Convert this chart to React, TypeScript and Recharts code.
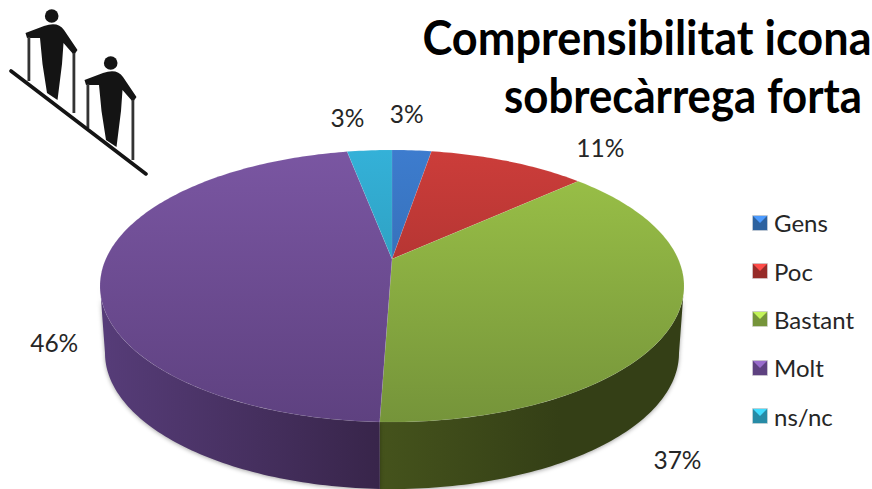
import React from 'react';
import { PieChart, Pie, Legend } from 'recharts';

const categories = ['Gens', 'Poc', 'Bastant', 'Molt', 'ns/nc'];
const shares = [2.64, 10.56, 37.35, 46.45, 3.0];
const titleLines = ['Comprensibilitat icona', 'sobrecàrrega forta'];

const rows = categories.map((name, i) => ({ name, value: shares[i] }));

// Layout and style
const W = 872;
const H = 489;
const FONT = 'Lato, "Open Sans", sans-serif';
const TOP = { cx: 392, cy: 286, rx: 292, ry: 136 };
const BOTTOM = { cx: 392, cy: 353, rx: 287, ry: 136 };
const K = -27 / 136; // perspective: hub sits above the ellipse middle
const TOP_COLORS = [
  ['#3d7cce', '#2d629f'],
  ['#cc3d3a', '#962b29'],
  ['#9cc348', '#75943a'],
  ['#7a56a2', '#5e4180'],
  ['#34b1d8', '#278ba6'],
];
const WALL_COLORS = [
  ['#2c5a90', '#1c3a60'],
  ['#8a2b29', '#5a1b1a'],
  ['#45531c', '#343f16'],
  ['#563c78', '#38254a'],
  ['#2a8aa6', '#1a5a6c'],
];
const LABEL_OFFSET: [number, number][] = [
  [-5, -37],
  [92, -14],
  [2, 141],
  [-48, 73],
  [-22, -33],
];

function project(e: typeof TOP, deg: number) {
  const t = (deg * Math.PI) / 180;
  const u = Math.sin(t);
  const v = -Math.cos(t);
  const den = 1 + K * v;
  return {
    x: e.cx + (e.rx * Math.sqrt(1 - K * K) * u) / den,
    y: e.cy + (e.ry * (v + K)) / den,
  };
}

function arc(e: typeof TOP, a: number, b: number) {
  const n = Math.max(2, Math.ceil(Math.abs(b - a)));
  const pts: string[] = [];
  for (let i = 0; i <= n; i++) {
    const p = project(e, a + ((b - a) * i) / n);
    pts.push(`${p.x.toFixed(2)} ${p.y.toFixed(2)}`);
  }
  return pts;
}

function hubPoint() {
  return { x: TOP.cx, y: TOP.cy + TOP.ry * K };
}

function TopSlice(props: any) {
  const a = 90 - props.startAngle;
  const b = 90 - props.endAngle;
  const hub = hubPoint();
  const d = `M${hub.x} ${hub.y}L${arc(TOP, a, b).join('L')}Z`;
  return <path d={d} fill={`url(#top${props.index})`} stroke="rgba(255,255,255,0.12)" strokeWidth={0.6} />;
}

function WallSlice(props: any) {
  const lo = 101.5;
  const hi = 258.5;
  const a = Math.max(90 - props.startAngle, lo);
  const b = Math.min(90 - props.endAngle, hi);
  if (b <= a) return <g />;
  const topPts = arc(TOP, a, b);
  const botPts = arc(BOTTOM, b, a);
  const d = `M${topPts.join('L')}L${botPts.join('L')}Z`;
  return <path d={d} fill={`url(#wall${props.index})`} style={{ filter: 'drop-shadow(0 1px 2px rgba(0,0,0,0.35))' }} />;
}

function SliceLabel(props: any) {
  const mid = 90 - props.midAngle;
  const p = project(TOP, mid);
  const [dx, dy] = LABEL_OFFSET[props.index];
  return (
    <text x={p.x + dx} y={p.y + dy} textAnchor="middle" dominantBaseline="central" fontFamily={FONT} fontSize={24.5} fill="#262626">
      {`${Math.round(props.value)}%`}
    </text>
  );
}

function LegendIcon({ i }: { i: number }) {
  const [c1, c2] = TOP_COLORS[i];
  return (
    <svg width={16} height={16} style={{ display: 'block', marginRight: 6 }}>
      <rect x={0.5} y={0.5} width={15} height={15} fill={c2} stroke="#d8d8d8" strokeWidth={0.6} />
      <polygon points="1,1 15,1 8,8" fill={c1} style={{ filter: 'brightness(1.25)' }} />
    </svg>
  );
}

function LegendBox(props: any) {
  const seen = new Set<string>();
  const items = (props.payload || [])
    .filter((p: any) => {
      if (p.type === 'none' || seen.has(p.value)) return false;
      seen.add(p.value);
      return true;
    })
    .sort((p: any, q: any) => categories.indexOf(p.value) - categories.indexOf(q.value));
  return (
    <div style={{ fontFamily: FONT, fontSize: 24, color: '#262626' }}>
      {items.map((it: any) => (
        <div key={it.value} style={{ display: 'flex', alignItems: 'center', height: 48.4, whiteSpace: 'nowrap' }}>
          <LegendIcon i={categories.indexOf(it.value)} />
          {it.value}
        </div>
      ))}
    </div>
  );
}

function Walker({ dx, dy }: { dx: number; dy: number }) {
  return (
    <g transform={`translate(${dx} ${dy})`} fill="#141414" stroke="none">
      <circle cx={51.7} cy={16} r={6.8} />
      <path d="M25.5 33 L44 26 Q58 21 64 30 L77.5 50 L74 55 L63.5 43 L62 64 L57.5 100 L47 93 L42.5 64 L40 38 L27 38 Z" />
      <rect x={27.5} y={37} width={2.8} height={44} fill="#333" />
      <rect x={72.5} y={53} width={2.8} height={60} fill="#333" />
    </g>
  );
}

export default function App() {
  return (
    <div style={{ position: 'absolute', left: 0, top: 0, width: W, height: H, overflow: 'hidden', background: '#fff' }}>
      <svg width={W} height={H} style={{ position: 'absolute', left: 0, top: 0 }}>
        <g style={{ filter: 'blur(0.5px)' }}>
          <Walker dx={0} dy={0} />
          <Walker dx={59} dy={47} />
          <line x1={11} y1={71} x2={146} y2={174} stroke="#141414" strokeWidth={3.6} strokeLinecap="round" />
        </g>
        <g transform="translate(647 55) scale(1 1.17)">
          <text x={0} y={0} textAnchor="middle" fontFamily={FONT} fontWeight={700} fontSize={40} fill="#000" textLength={449} lengthAdjust="spacingAndGlyphs">
            {titleLines[0]}
          </text>
        </g>
        <g transform="translate(683 113) scale(1 1.17)">
          <text x={0} y={0} textAnchor="middle" fontFamily={FONT} fontWeight={700} fontSize={40} fill="#000" textLength={358} lengthAdjust="spacingAndGlyphs">
            {titleLines[1]}
          </text>
        </g>
      </svg>
      <div style={{ position: 'absolute', left: 0, top: 0 }}>
        <PieChart width={W} height={H} margin={{ top: 0, right: 0, bottom: 0, left: 0 }}>
          <defs>
            {TOP_COLORS.map(([a, b], i) => (
              <linearGradient key={i} id={`top${i}`} gradientUnits="userSpaceOnUse" x1={0} y1={150} x2={0} y2={422}>
                <stop offset="0%" stopColor={a} />
                <stop offset="100%" stopColor={b} />
              </linearGradient>
            ))}
            {WALL_COLORS.map(([a, b], i) => (
              <linearGradient key={i} id={`wall${i}`} gradientUnits="userSpaceOnUse" x1={i === 2 ? 380 : 105} y1={0} x2={i === 2 ? 560 : 380} y2={0}>
                <stop offset="0%" stopColor={a} />
                <stop offset="100%" stopColor={b} />
              </linearGradient>
            ))}
          </defs>
          <Pie
            data={rows}
            dataKey="value"
            nameKey="name"
            cx={TOP.cx}
            cy={TOP.cy}
            outerRadius={TOP.rx}
            startAngle={90}
            endAngle={-270}
            stroke="none"
            legendType="none"
            shape={WallSlice}
            isAnimationActive={false}
          />
          <Pie
            data={rows}
            dataKey="value"
            nameKey="name"
            cx={TOP.cx}
            cy={TOP.cy}
            outerRadius={TOP.rx}
            startAngle={90}
            endAngle={-270}
            stroke="none"
            shape={TopSlice}
            label={SliceLabel}
            labelLine={false}
            isAnimationActive={false}
          />
          <Legend
            layout="vertical"
            content={LegendBox}
            itemSorter={null}
            wrapperStyle={{ position: 'absolute', left: 752, top: 198.5, width: 120, height: 245 }}
          />
        </PieChart>
      </div>
    </div>
  );
}
